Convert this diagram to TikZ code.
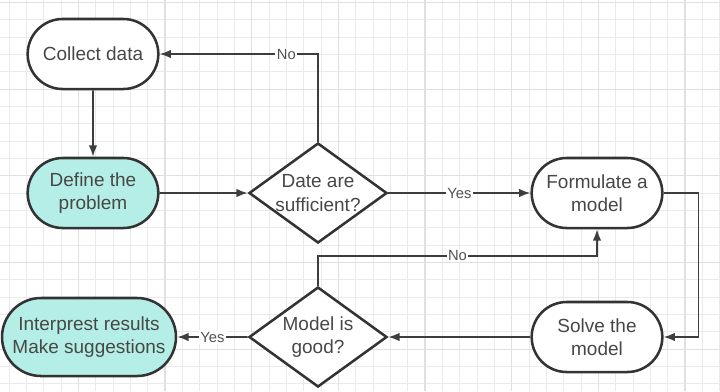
\documentclass[tikz,border=0pt]{standalone}
\usepackage{fontspec}
\setmainfont{Liberation Sans}
\usetikzlibrary{shapes.geometric,shapes.misc,arrows.meta}
\definecolor{mint}{RGB}{180,238,230}
\definecolor{ink}{RGB}{51,51,51}
\definecolor{gridminor}{RGB}{234,234,234}
\definecolor{gridmajor}{RGB}{224,224,224}
\begin{document}
\begin{tikzpicture}[
	x=0.025cm, y=-0.025cm,
	every node/.style={font=\fontsize{13.5}{16.5}\selectfont, text=ink!90, align=center},
	terminal/.style={rounded rectangle, draw=ink, line width=1.8pt, fill=white, minimum width=3.5cm, minimum height=1.75cm},
	decision/.style={diamond, draw=ink, line width=1.8pt, fill=white, shape aspect=1.38, inner sep=0pt, minimum width=3.45cm, minimum height=2.5cm},
	flow/.style={line width=1.2pt, draw=ink!95, -{Latex[length=8pt,width=6pt]}},
	answer/.style={font=\fontsize{10.5}{12}\selectfont, text=ink!85, fill=white, inner sep=1pt},
]
\useasboundingbox (0,0) rectangle (720,391);
\fill[white] (0,0) rectangle (720,391);
% grid
\foreach \i in {0,...,41}
	\draw[gridminor, line width=0.6pt] ({8.97+\i*17.333},0) -- ({8.97+\i*17.333},391);
\foreach \j in {0,...,22}
	\draw[gridminor, line width=0.6pt] (0,{2.4+\j*17.333}) -- (720,{2.4+\j*17.333});
\foreach \i in {0,...,7}
	\draw[gridmajor, line width=0.8pt] ({78.3+\i*86.667},0) -- ({78.3+\i*86.667},391);
\foreach \j in {0,...,4}
	\draw[gridmajor, line width=0.8pt] (0,{2.4+\j*86.667}) -- (720,{2.4+\j*86.667});

% steps
\node[terminal] (collect) at (93,54) {Collect data};
\node[terminal, fill=mint] (define) at (93,193) {Define the\\problem};
\node[decision] (enough) at (318,193) {Date are\\sufficient?};
\node[terminal] (formulate) at (597,193) {Formulate a\\model};
\node[terminal] (solve) at (597,337) {Solve the\\model};
\node[decision] (good) at (318,337) {Model is\\good?};
\node[terminal, fill=mint, minimum width=4.15cm, minimum height=1.95cm] (report) at (89,337) {Interprest results\\Make suggestions};

% connectors
\draw[flow] (collect) -- (define);
\draw[flow] (define) -- (enough);
\draw[flow] (enough.north) |- node[answer, pos=0.6] {No} (collect.east);
\draw[flow] (enough) -- node[answer] {Yes} (formulate);
\draw[flow] (formulate.east) -- ++(35,0) |- (solve.east);
\draw[flow] (solve) -- (good);
\draw[flow] (good.north) -- ++(0,-30) -| node[answer, pos=0.25] {No} (formulate.south);
\draw[flow] (good) -- node[answer] {Yes} (report);
\end{tikzpicture}
\end{document}
